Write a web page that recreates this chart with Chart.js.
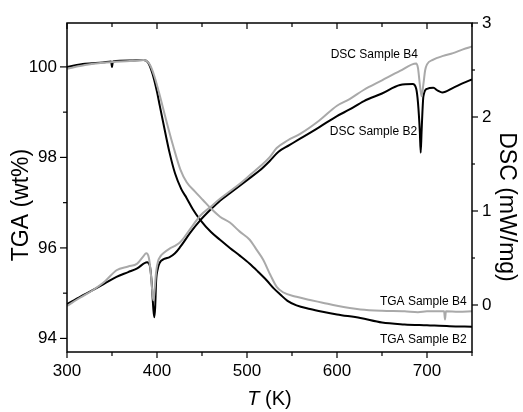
<!DOCTYPE html>
<html>
<head>
<meta charset="utf-8">
<script src="https://cdn.jsdelivr.net/npm/chart.js@4.4.1/dist/chart.umd.min.js"></script>
<style>
  html, body { margin: 0; padding: 0; background: #fff; }
  #wrap { width: 523px; height: 412px; }
</style>
</head>
<body>
<div id="wrap"><canvas id="chart" width="523" height="412"></canvas></div>
<script>
// TGA, sample B2 (black, left axis)
const tempsTgaB2 = [300, 320, 340, 349, 350, 351, 370, 385, 390, 395, 400, 403, 407, 414, 420, 427, 433, 440, 448, 460, 470, 481, 492, 503, 512, 522, 530, 537, 545, 555, 570, 584, 600, 626, 650, 675, 700, 725, 750];
const tgaB2 = [100.00, 100.07, 100.10, 100.12, 100.00, 100.12, 100.14, 100.15, 100.10, 99.85, 99.45, 99.15, 98.76, 98.10, 97.65, 97.30, 97.10, 96.85, 96.62, 96.35, 96.18, 96.00, 95.83, 95.65, 95.48, 95.28, 95.10, 94.97, 94.83, 94.73, 94.65, 94.59, 94.53, 94.45, 94.35, 94.31, 94.29, 94.27, 94.26];

// TGA, sample B4 (grey, left axis)
const tempsTgaB4 = [300, 320, 340, 370, 385, 392, 397, 402, 411, 418, 426, 433, 442, 451, 460, 470, 481, 492, 503, 510, 518, 526, 533, 540, 555, 570, 584, 600, 626, 650, 675, 690, 700, 719, 720, 721, 735, 750];
const tgaB4 = [99.96, 100.04, 100.09, 100.13, 100.15, 100.05, 99.80, 99.45, 98.76, 98.25, 97.73, 97.45, 97.25, 97.06, 96.87, 96.69, 96.56, 96.36, 96.18, 95.98, 95.74, 95.40, 95.14, 95.02, 94.92, 94.85, 94.79, 94.72, 94.64, 94.61, 94.60, 94.58, 94.60, 94.60, 94.42, 94.60, 94.59, 94.60];

// DSC, sample B2 (black, right axis)
const tempsDscB2 = [300, 315, 329, 342, 355, 368, 378, 389, 392, 394, 396, 397, 398, 399, 401, 403, 408, 414, 420, 426, 437, 448, 459, 470, 481, 492, 503, 514, 525, 535, 547, 559, 580, 600, 614, 630, 650, 670, 684, 688, 690, 692, 693, 694, 696, 700, 707, 712, 717, 729, 740, 750];
const dscB2 = [0.01, 0.09, 0.16, 0.23, 0.30, 0.35, 0.39, 0.455, 0.42, 0.25, -0.05, -0.13, -0.02, 0.25, 0.39, 0.45, 0.49, 0.51, 0.55, 0.62, 0.77, 0.90, 1.01, 1.11, 1.19, 1.27, 1.35, 1.43, 1.53, 1.63, 1.70, 1.77, 1.89, 2.01, 2.08, 2.17, 2.25, 2.34, 2.35, 2.30, 2.15, 1.85, 1.62, 1.85, 2.22, 2.30, 2.31, 2.28, 2.26, 2.31, 2.36, 2.40];

// DSC, sample B4 (grey, right axis)
const tempsDscB4 = [300, 315, 329, 342, 355, 368, 378, 385, 388, 391, 393, 395, 396, 397, 399, 401, 404, 407, 414, 420, 426, 437, 448, 459, 470, 481, 492, 503, 514, 525, 533, 545, 559, 580, 600, 614, 630, 650, 670, 688, 690, 692, 694, 696, 698, 700, 707, 718, 729, 740, 750];
const dscB4 = [-0.01, 0.08, 0.16, 0.25, 0.37, 0.41, 0.44, 0.52, 0.55, 0.50, 0.35, 0.12, 0.05, 0.12, 0.35, 0.46, 0.52, 0.55, 0.60, 0.63, 0.67, 0.81, 0.95, 1.04, 1.13, 1.21, 1.29, 1.38, 1.47, 1.57, 1.67, 1.75, 1.82, 1.96, 2.12, 2.19, 2.29, 2.39, 2.49, 2.57, 2.52, 2.35, 2.22, 2.35, 2.50, 2.56, 2.61, 2.65, 2.68, 2.72, 2.75];

// axis ticks
const xMajor = [300, 400, 500, 600, 700];
const xMinor = [350, 450, 550, 650, 750];
const tgaMajor = [94, 96, 98, 100];
const tgaMinor = [95, 97, 99];
const dscMajor = [0, 1, 2, 3];
const dscMinor = [0.5, 1.5, 2.5];

const BLACK = '#000000';
const GREY = '#a9a9a9';
const FONT = '"Liberation Sans", Arial, sans-serif';

const toPoints = (xs, ys) => xs.map((x, i) => ({ x: x, y: ys[i] }));

// curve labels, anchored in data coordinates
const curveLabels = [
  { text: 'DSC Sample B4', x: 690, y: 2.66, axis: 'y1' },
  { text: 'DSC Sample B2', x: 689, y: 1.84, axis: 'y1' },
  { text: 'TGA Sample B4', x: 744, y: 94.82, axis: 'y' },
  { text: 'TGA Sample B2', x: 744, y: 93.98, axis: 'y' }
];

const framePlugin = {
  id: 'frame',
  afterDraw(chart) {
    const { ctx, chartArea: a, scales } = chart;
    ctx.save();
    ctx.strokeStyle = BLACK;
    ctx.lineWidth = 1.5;
    ctx.strokeRect(a.left, a.top, a.right - a.left, a.bottom - a.top);

    ctx.lineWidth = 1.2;
    const line = (x1, y1, x2, y2) => {
      ctx.beginPath();
      ctx.moveTo(x1, y1);
      ctx.lineTo(x2, y2);
      ctx.stroke();
    };
    xMajor.forEach(v => {
      const px = scales.x.getPixelForValue(v);
      line(px, a.bottom, px, a.bottom + 6);
      line(px, a.top, px, a.top + 6);
    });
    xMinor.forEach(v => {
      const px = scales.x.getPixelForValue(v);
      line(px, a.bottom, px, a.bottom + 4);
      line(px, a.top, px, a.top + 4);
    });
    tgaMajor.forEach(v => {
      const py = scales.y.getPixelForValue(v);
      line(a.left - 7, py, a.left, py);
    });
    tgaMinor.forEach(v => {
      const py = scales.y.getPixelForValue(v);
      line(a.left - 4, py, a.left, py);
    });
    dscMajor.forEach(v => {
      const py = scales.y1.getPixelForValue(v);
      line(a.right, py, a.right + 6, py);
    });
    dscMinor.forEach(v => {
      const py = scales.y1.getPixelForValue(v);
      line(a.right, py, a.right + 3, py);
    });

    // axis titles
    ctx.fillStyle = BLACK;
    ctx.textAlign = 'center';
    ctx.textBaseline = 'middle';
    ctx.font = '23px ' + FONT;
    ctx.save();
    ctx.translate(22, 205);
    ctx.rotate(-Math.PI / 2);
    ctx.fillText('TGA (wt%)', 0, 0);
    ctx.restore();
    ctx.save();
    ctx.translate(506, 207);
    ctx.rotate(Math.PI / 2);
    ctx.fillText('DSC (mW/mg)', 0, 0);
    ctx.restore();

    const cx = (a.left + a.right) / 2;
    ctx.font = 'italic 20px ' + FONT;
    const wT = ctx.measureText('T').width;
    ctx.font = '20px ' + FONT;
    const wK = ctx.measureText(' (K)').width;
    const start = cx - (wT + wK) / 2;
    ctx.textAlign = 'left';
    ctx.font = 'italic 20px ' + FONT;
    ctx.fillText('T', start, 399);
    ctx.font = '20px ' + FONT;
    ctx.fillText(' (K)', start + wT, 399);

    // curve labels
    ctx.font = '12px ' + FONT;
    ctx.textAlign = 'right';
    curveLabels.forEach(l => {
      ctx.fillText(l.text, scales.x.getPixelForValue(l.x), scales[l.axis].getPixelForValue(l.y));
    });
    ctx.restore();
  }
};

const lineStyle = (color) => ({
  borderColor: color,
  backgroundColor: color,
  borderWidth: 2,
  pointRadius: 0,
  showLine: true,
  fill: false,
  cubicInterpolationMode: 'monotone'
});

new Chart(document.getElementById('chart'), {
  type: 'scatter',
  data: {
    datasets: [
      Object.assign({ label: 'TGA Sample B4', data: toPoints(tempsTgaB4, tgaB4), yAxisID: 'y' }, lineStyle(GREY)),
      Object.assign({ label: 'DSC Sample B4', data: toPoints(tempsDscB4, dscB4), yAxisID: 'y1' }, lineStyle(GREY)),
      Object.assign({ label: 'TGA Sample B2', data: toPoints(tempsTgaB2, tgaB2), yAxisID: 'y' }, lineStyle(BLACK)),
      Object.assign({ label: 'DSC Sample B2', data: toPoints(tempsDscB2, dscB2), yAxisID: 'y1' }, lineStyle(BLACK))
    ]
  },
  options: {
    responsive: false,
    animation: false,
    devicePixelRatio: 1,
    layout: { padding: { top: 23, left: 0, right: 0, bottom: 0 } },
    plugins: {
      legend: { display: false },
      tooltip: { enabled: false }
    },
    scales: {
      x: {
        type: 'linear',
        position: 'bottom',
        min: 300,
        max: 750,
        grid: { display: false, drawTicks: false },
        border: { display: false },
        ticks: {
          stepSize: 100,
          includeBounds: false,
          padding: 9,
          color: BLACK,
          font: { family: FONT, size: 17 },
          maxRotation: 0
        },
        afterFit: (s) => { s.height = 60; }
      },
      y: {
        type: 'linear',
        position: 'left',
        min: 93.7,
        max: 100.97,
        grid: { display: false, drawTicks: false },
        border: { display: false },
        ticks: {
          stepSize: 2,
          includeBounds: false,
          padding: 10,
          color: BLACK,
          font: { family: FONT, size: 17 }
        },
        afterFit: (s) => { s.width = 67; }
      },
      y1: {
        type: 'linear',
        position: 'right',
        min: -0.5,
        max: 3,
        grid: { display: false, drawTicks: false },
        border: { display: false },
        ticks: {
          stepSize: 1,
          includeBounds: false,
          padding: 10,
          color: BLACK,
          font: { family: FONT, size: 17 }
        },
        afterFit: (s) => { s.width = 51; }
      }
    }
  },
  plugins: [framePlugin]
});
</script>
</body>
</html>
